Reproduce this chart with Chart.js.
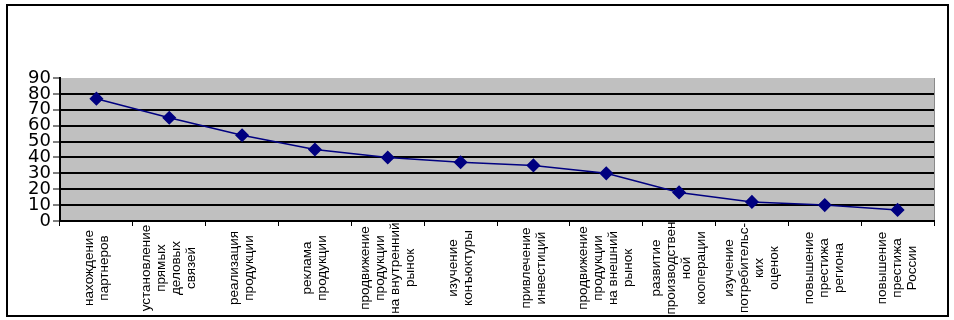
<!DOCTYPE html>
<html><head><meta charset="utf-8">
<script src="https://cdn.jsdelivr.net/npm/chart.js@4"></script>
<style>html,body{margin:0;padding:0;background:#fff}#wrap{width:954px;height:320px}</style>
</head><body><div id="wrap"><canvas id="c" width="954" height="320"></canvas></div>
<script>
const categories = [
  ["нахождение","партнеров"],
  ["установление","прямых","деловых","связей"],
  ["реализация","продукции"],
  ["реклама","продукции"],
  ["продвижение","продукции","на внутренний","рынок"],
  ["изучение","конъюктуры"],
  ["привлечение","инвестиций"],
  ["продвижение","продукции","на внешний","рынок"],
  ["развитие","производствен","ной","кооперации"],
  ["изучение","потребительс-","ких","оценок"],
  ["повышение","престижа","региона"],
  ["повышение","престижа","России"]
];
const values = [77, 65, 54, 45, 40, 37, 35, 30, 18, 12, 10, 7];
const yMin = 0, yMax = 90, yStep = 10;

const FONT = "'Liberation Sans', Arial, sans-serif";
const YFONT = "'DejaVu Sans', 'Liberation Sans', sans-serif";

const bgPlugin = {
  id: 'bg',
  beforeDraw(chart) {
    const {ctx, chartArea: a} = chart;
    ctx.save();
    ctx.fillStyle = '#fff';
    ctx.fillRect(0, 0, chart.width, chart.height);
    ctx.fillStyle = '#c0c0c0';
    ctx.fillRect(a.left, a.top, a.right - a.left, a.bottom - a.top);
    ctx.strokeStyle = '#8a8a8a';
    ctx.lineWidth = 1;
    ctx.beginPath();
    ctx.moveTo(a.right + 0.5, a.top);
    ctx.lineTo(a.right + 0.5, a.bottom);
    ctx.stroke();
    ctx.restore();
  },
  afterDraw(chart) {
    const {ctx} = chart;
    const xs = chart.scales.x;
    ctx.save();
    ctx.fillStyle = '#000';
    ctx.font = '13.5px ' + FONT;
    ctx.textAlign = 'center';
    ctx.textBaseline = 'middle';
    const lh = 15;
    const cy = 268;
    categories.forEach((lines, i) => {
      const x = xs.getPixelForValue(i);
      const n = lines.length;
      lines.forEach((t, j) => {
        const lx = x + (j - (n - 1) / 2) * lh;
        ctx.save();
        ctx.translate(lx, cy);
        ctx.rotate(-Math.PI / 2);
        ctx.fillText(t, 0, 0);
        ctx.restore();
      });
    });
    ctx.strokeStyle = '#000';
    ctx.lineWidth = 2;
    ctx.strokeRect(7, 5, 941, 311);
    ctx.restore();
  }
};

new Chart(document.getElementById('c'), {
  type: 'line',
  data: {
    labels: categories.map(l => l.join(' ')),
    datasets: [{
      data: values,
      borderColor: '#000080',
      backgroundColor: '#000080',
      borderWidth: 1.5,
      pointStyle: 'rectRot',
      pointRadius: 6,
      pointHoverRadius: 6,
      tension: 0
    }]
  },
  options: {
    responsive: false,
    animation: false,
    plugins: { legend: { display: false }, tooltip: { enabled: false } },
    layout: { padding: { left: 8, top: 78, right: 20, bottom: 0 } },
    scales: {
      x: {
        offset: true,
        grid: { offset: true, drawOnChartArea: false, drawTicks: true, tickLength: 5, color: '#000', lineWidth: 1 },
        border: { color: '#000', width: 2 },
        ticks: { display: false },
        afterFit(s) { s.height = 99; }
      },
      y: {
        min: yMin, max: yMax,
        ticks: { stepSize: yStep, autoSkip: false, font: { family: YFONT, size: 18, lineHeight: 1 }, color: '#000', padding: 2 },
        grid: {
          color: c => (c.tick && c.tick.value === yMax) ? 'rgba(0,0,0,0)' : '#000',
          lineWidth: 2, tickLength: 7, tickColor: '#000', tickWidth: 1
        },
        border: { color: '#000', width: 2 },
        afterFit(s) { s.width = 52; }
      }
    }
  },
  plugins: [bgPlugin]
});
</script>
</body></html>
